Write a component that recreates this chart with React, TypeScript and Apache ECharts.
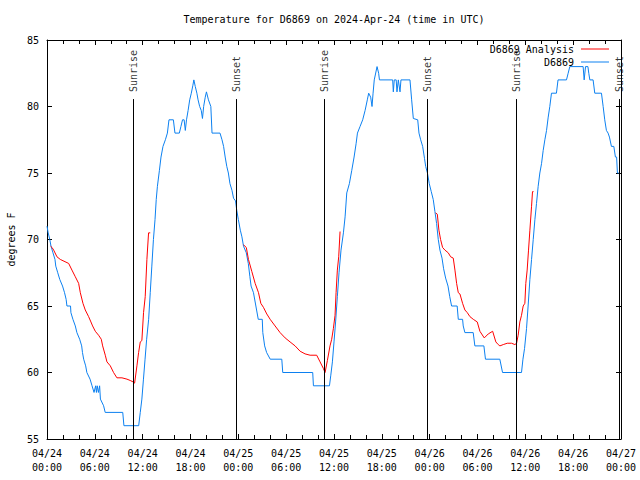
import React, { useEffect, useRef } from "react";
import * as echarts from "echarts";

const chartTitle = "Temperature for D6869 on 2024-Apr-24 (time in UTC)";
const startDay = 24; // April 24, 00:00 UTC = hour 0
const yName = "degrees F";
const analysisName = "D6869 Analysis";
const obsName = "D6869";

// hours since 04/24 00:00 UTC
const obsHours = [
  0.0, 0.15, 0.35, 0.5, 0.75, 1.0, 1.1, 1.35, 1.6, 1.95, 2.2, 2.4, 2.5, 2.95, 3.0, 3.25, 3.55, 3.75, 4.1, 4.35,
  4.45, 4.6, 4.85, 5.0, 5.4, 5.65, 5.9, 6.1, 6.2, 6.3, 6.45, 6.6, 6.7, 7.1, 7.3, 9.5, 9.65, 11.5, 11.7, 11.9,
  12.1, 12.3, 12.5, 12.75, 12.95, 13.15, 13.35, 13.55, 13.7, 13.85, 14.1, 14.3, 14.55, 14.85, 15.1, 15.3, 15.85, 16.05, 16.6, 16.8,
  17.0, 17.2, 17.35, 17.5, 17.7, 17.9, 18.1, 18.3, 18.42, 18.6, 18.8, 18.95, 19.15, 19.35, 19.5, 19.65, 19.85, 20.0, 20.25, 20.55,
  20.7, 21.7, 21.95, 22.15, 22.35, 22.55, 22.75, 22.95, 23.2, 23.4, 23.65, 23.8, 24.0, 24.25, 24.45, 24.65, 25.0, 25.25, 25.45, 25.6,
  25.9, 26.2, 26.5, 27.0, 27.07, 27.3, 27.55, 28.0, 29.45, 29.57, 33.33, 33.42, 35.43, 35.6, 35.8, 36.0, 36.2, 36.42, 36.63, 36.88,
  37.18, 37.39, 37.6, 37.93, 38.23, 38.52, 38.77, 38.94, 39.27, 39.6, 39.9, 40.18, 40.35, 40.6, 40.77, 40.85, 40.9, 41.05, 41.4, 41.6,
  41.7, 43.36, 43.44, 43.56, 43.8, 43.9, 44.07, 44.28, 44.4, 45.53, 45.74, 45.95, 46.5, 46.66, 46.87, 47.12, 47.35, 47.5, 47.72, 47.95,
  48.2, 48.45, 48.66, 48.87, 49.08, 49.29, 49.55, 49.75, 50.0, 50.3, 50.52, 50.75, 51.45, 51.59, 52.13, 52.21, 52.42, 53.46, 53.67, 54.8,
  55.0, 56.8, 57.14, 59.52, 59.7, 59.9, 60.15, 60.35, 60.57, 60.78, 60.99, 61.2, 61.4, 61.61, 61.82, 62.03, 62.24, 62.45, 62.66, 62.87,
  63.07, 63.28, 63.9, 64.1, 65.16, 65.37, 65.58, 67.25, 67.38, 67.55, 67.85, 67.96, 68.09, 68.5, 68.71, 69.55, 69.76, 69.96, 70.17, 70.38,
  70.55, 70.8, 71.1, 71.3, 71.45, 71.55, 71.72,
];
const obsTemps = [
  71, 70.5, 70, 69.5, 69, 68.5, 68, 67.5, 67, 66.5, 66, 65.5, 65, 65, 64.5, 64, 63.5, 63, 62.5, 62,
  61.5, 61, 60.5, 60, 59.5, 59, 58.5, 59, 58.5, 59, 58.5, 59, 58, 57.5, 57, 57, 56, 56, 57, 58,
  59.5, 61, 62.5, 64, 66, 68, 70, 71.5, 73, 74, 75.2, 76.2, 77, 77.5, 78, 79, 79, 78, 78, 78.5,
  79, 79, 78.2, 79, 79.7, 80.5, 81, 81.6, 82, 81.5, 81, 80.5, 80, 79.7, 79.1, 80, 80.7, 81.1, 80.5, 80,
  78, 78, 77.5, 77, 76.2, 75.5, 75, 74.2, 73.7, 73.1, 72.9, 72.2, 71.5, 70.7, 70.2, 69.5, 69, 68.2, 67.2, 66.5,
  66, 65, 64, 64, 63, 62, 61.5, 61, 61, 60, 60, 59, 59, 59.8, 60.8, 62.3, 63.8, 65.7, 67.5, 69.2,
  70.5, 71.7, 73.5, 74.2, 75.2, 76.2, 77.2, 78, 78.5, 79, 79.7, 80.5, 81, 80.7, 80, 80, 81, 82, 83, 82.5,
  82, 82, 81.1, 82, 82, 81.1, 82, 81.1, 82, 82, 80.5, 79.1, 79, 78, 77.5, 77, 76.1, 75.5, 75, 74.2,
  73.6, 73, 72.1, 71.2, 70, 69.2, 68.6, 67.8, 67.1, 66.5, 65.7, 65, 65, 64, 64, 63.5, 63, 63, 62, 62,
  61, 61, 60, 60, 61, 61.8, 63.3, 65, 67, 68.5, 70, 71.5, 72.7, 74, 75, 75.7, 76.7, 77.5, 78.2, 79.2,
  80, 81, 81, 82, 82, 82.5, 83, 83, 82, 83, 83, 82.5, 82, 82, 81, 81, 80, 79, 78.2, 78,
  77.7, 77, 77, 76.2, 76.2, 75, 75,
];

const analysisHours = [
  0.45, 0.63, 0.84, 1.25, 1.67, 2.72, 3.13, 3.55, 3.97, 4.18, 4.51, 4.8, 5.22, 5.51, 5.72, 6.06, 6.47, 6.81, 6.98, 7.31,
  7.52, 7.94, 8.35, 8.77, 9.4, 10.03, 10.44, 10.78, 10.99, 11.28, 11.49, 11.7, 11.9, 12.11, 12.32, 12.53, 12.74, 12.95,
  18.0,
  24.65, 25.0, 25.27, 25.69, 26.11, 26.53, 26.82, 27.15, 27.57, 27.99, 28.61, 29.24, 29.87, 30.49, 31.12, 31.75, 32.37, 33.0, 33.83, 34.25,
  34.67, 34.88, 35.17, 35.5, 35.71, 35.92, 36.13, 36.26, 36.42, 36.59, 36.76,
  42.0,
  48.75, 48.96, 49.16, 49.37, 49.62, 49.92, 50.33, 50.63, 50.96, 51.17, 51.38, 51.59, 51.8, 52.13, 52.42, 52.72, 53.05, 53.47, 53.97, 54.3,
  54.85, 55.35, 55.9, 56.3, 56.6, 56.81, 57.23, 57.73, 58.27, 58.69, 58.9, 59.1, 59.31, 59.52, 59.73, 59.94, 60.06, 60.23, 60.4, 60.57,
  60.78, 60.9, 61.03,
];
const analysisTemps: (number | null)[] = [
  69.5, 69.4, 69.2, 68.7, 68.5, 68.2, 67.7, 67.2, 66.7, 66, 65.2, 64.7, 64.2, 63.8, 63.5, 63.1, 62.8, 62.5, 62, 61.3,
  60.8, 60.5, 60, 59.6, 59.6, 59.5, 59.4, 59.3, 59.2, 60.5, 61.5, 62.3, 62.4, 64.5, 65.7, 68.5, 70.5, 70.5,
  null,
  69.6, 69.4, 68.5, 67.6, 66.7, 66, 65.2, 64.9, 64.4, 64, 63.5, 63, 62.6, 62.3, 62, 61.6, 61.4, 61.3, 61.3, 60.8,
  60.3, 60, 60.9, 62, 62.5, 63.3, 64.3, 66, 67.7, 68.7, 70.6,
  null,
  72, 71.9, 70.7, 70, 69.4, 69.2, 69, 68.7, 68.6, 67.7, 66.7, 66, 65.9, 65.2, 64.7, 64.5, 64.2, 64, 63.8, 63.1,
  62.6, 62.9, 63.1, 62.3, 62.1, 62, 62.1, 62.2, 62.2, 62.1, 62.2, 62.8, 63.8, 64.3, 65, 65.2, 66.7, 67.7, 69.2, 70.7,
  72.5, 73.6, 73.6,
];

const sunEventHours = [10.85, 23.78, 34.79, 47.72, 58.85, 71.84];
const sunEventNames = ["Sunrise", "Sunset", "Sunrise", "Sunset", "Sunrise", "Sunset"];
const sunLineTop = 80.56;

const FONT = "'DejaVu Sans Mono', 'Liberation Mono', monospace";
const BLUE = "#0c80f0";
const RED = "#ff0000";

const pad2 = (n: number) => (n < 10 ? "0" + n : "" + n);
const xLabel = (v: number) => {
  const day = startDay + Math.floor(v / 24);
  const hr = Math.round(v % 24);
  return `04/${pad2(day)}\n${pad2(hr)}:00`;
};

const axisBase = {
  axisLine: { show: true, onZero: false, lineStyle: { color: "#000", width: 1 } },
  splitLine: { show: false },
};

const legendBase = {
  right: 31,
  orient: "vertical",
  align: "right",
  icon: "rect",
  itemWidth: 28,
  itemHeight: 1,
  padding: 0,
  textStyle: { fontFamily: FONT, fontSize: 10, color: "#000", lineHeight: 12, padding: [0, 2, 0, 0] },
};

export default function App() {
  const ref = useRef<HTMLDivElement>(null);
  useEffect(() => {
    document.body.style.margin = "0";
    const chart = echarts.init(ref.current!, null, { renderer: "svg" });
    const xCommon = {
      type: "value",
      min: 0,
      max: 72,
      interval: 6,
      ...axisBase,
      axisTick: { show: true, inside: true, length: 5, lineStyle: { color: "#000" } },
      minorTick: { show: true, splitNumber: 3, length: 4, lineStyle: { color: "#000" } },
    };
    const yCommon = {
      type: "value",
      min: 55,
      max: 85,
      interval: 5,
      ...axisBase,
      axisTick: { show: true, inside: true, length: 5, lineStyle: { color: "#000" } },
    };
    chart.setOption({
      animation: false,
      textStyle: { fontFamily: FONT, fontSize: 10, color: "#000" },
      graphic: [
        {
          type: "text",
          x: 334,
          y: 19,
          style: {
            text: chartTitle,
            align: "center",
            verticalAlign: "middle",
            fontFamily: FONT,
            fontSize: 10,
            fill: "#000",
          },
        },
      ],
      grid: { left: 47, right: 19, top: 40, bottom: 41, containLabel: false, outerBoundsMode: "none" },
      legend: [
        { ...legendBase, data: [analysisName], top: 43 },
        { ...legendBase, data: [obsName], top: 56 },
      ],
      xAxis: [
        {
          ...xCommon,
          position: "bottom",
          axisLabel: {
            show: true,
            formatter: xLabel,
            fontFamily: FONT,
            fontSize: 10,
            color: "#000",
            lineHeight: 14,
            margin: 7,
            showMinLabel: true,
            showMaxLabel: true,
          },
        },
        { ...xCommon, position: "top", axisLabel: { show: false } },
      ],
      yAxis: [
        {
          ...yCommon,
          position: "left",
          name: yName,
          nameLocation: "middle",
          nameRotate: 90,
          nameGap: 31,
          nameTextStyle: { fontFamily: FONT, fontSize: 10, color: "#000" },
          axisLabel: { show: true, fontFamily: FONT, fontSize: 10, color: "#000", margin: 8 },
        },
        { ...yCommon, position: "right", axisLabel: { show: false } },
      ],
      series: [
        {
          name: analysisName,
          type: "line",
          xAxisIndex: 0,
          yAxisIndex: 0,
          data: analysisHours.map((h, i) => [h, analysisTemps[i] === null ? "-" : analysisTemps[i]]),
          showSymbol: false,
          symbol: "none",
          connectNulls: false,
          color: RED,
          itemStyle: { color: RED },
          lineStyle: { color: RED, width: 1 },
          z: 3,
        },
        {
          name: obsName,
          type: "line",
          xAxisIndex: 0,
          yAxisIndex: 0,
          data: obsHours.map((h, i) => [h, obsTemps[i]]),
          showSymbol: false,
          symbol: "none",
          color: BLUE,
          itemStyle: { color: BLUE },
          lineStyle: { color: BLUE, width: 1 },
          z: 2,
          markLine: {
            silent: true,
            symbol: ["none", "none"],
            label: { show: false },
            lineStyle: { color: "#000", width: 1, type: "solid" },
            data: sunEventHours.map((h) => [
              { coord: [h, 55] },
              { coord: [h, sunLineTop] },
            ]),
          },
        },
        {
          name: "sun",
          type: "scatter",
          xAxisIndex: 0,
          yAxisIndex: 0,
          symbolSize: 0,
          silent: true,
          data: sunEventHours.map((h, i) => ({ value: [h, sunLineTop], name: sunEventNames[i] })),
          label: {
            show: true,
            formatter: "{b}",
            position: "top",
            distance: 7,
            rotate: 90,
            align: "left",
            verticalAlign: "middle",
            fontFamily: FONT,
            fontSize: 10,
            color: "#000",
          },
        },
      ],
    });
    return () => chart.dispose();
  }, []);
  return <div ref={ref} style={{ width: 640, height: 480 }} />;
}
